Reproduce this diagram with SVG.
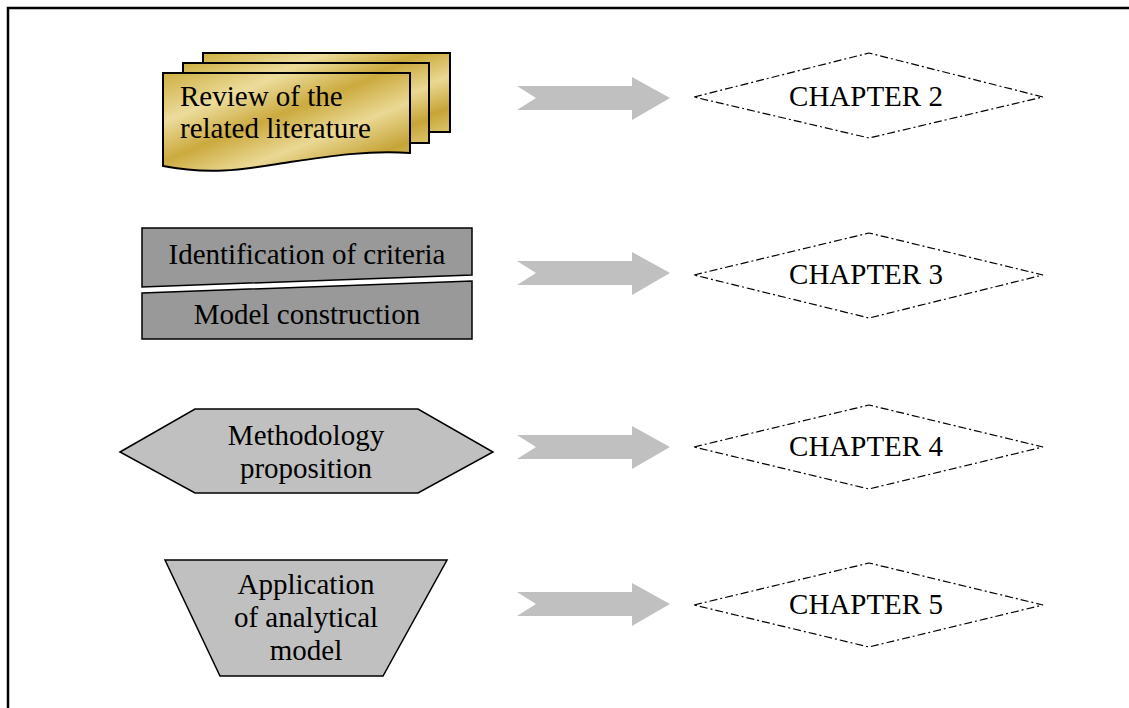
<svg xmlns="http://www.w3.org/2000/svg" width="1129" height="708" viewBox="0 0 1129 708">
<defs>
<linearGradient id="gold" x1="0" y1="0" x2="1" y2="1">
<stop offset="0" stop-color="#cdae40"/>
<stop offset="0.25" stop-color="#ecdc9c"/>
<stop offset="0.45" stop-color="#cbaa3e"/>
<stop offset="0.65" stop-color="#ead894"/>
<stop offset="0.85" stop-color="#c6a438"/>
<stop offset="1" stop-color="#dcc46c"/>
</linearGradient>
<style>
.t{font-family:"Liberation Serif","Times New Roman",serif;font-size:29px;fill:#000;text-anchor:middle}
.tl{font-family:"Liberation Serif","Times New Roman",serif;font-size:29px;fill:#000}
.doc{fill:url(#gold);stroke:#000;stroke-width:2}
.dark{fill:#999999;stroke:#000;stroke-width:1.5}
.light{fill:#c0c0c0;stroke:#000;stroke-width:1.5}
.arr{fill:#c0c0c0;stroke:none}
.dia{fill:none;stroke:#000;stroke-width:1.2;stroke-dasharray:8 3 2 3}
</style>
</defs>
<rect width="1129" height="708" fill="#fff"/>
<path d="M8,708 V8 H1129" fill="none" stroke="#000" stroke-width="2.5"/>

<g id="review">
<path class="doc" d="M203,53 H450 V132 H203 Z"/>
<path class="doc" d="M183,63 H429 V143 H183 Z"/>
<path class="doc" d="M163,73 H410 V153 C370,150 330,156 290,162 C250,168 215,176 163,166 Z"/>
<text class="tl" x="180" y="106">Review of the</text>
<text class="tl" x="180" y="138">related literature</text>
</g>

<g id="identification">
<path class="dark" d="M142,228 H472 V275 L142,287 Z"/>
<text class="t" x="307" y="264">Identification of criteria</text>
</g>
<g id="model">
<path class="dark" d="M142,293 L472,281 V339 H142 Z"/>
<text class="t" x="307" y="324">Model construction</text>
</g>

<g id="methodology">
<path class="light" d="M120,452 L195,409 H418 L493,452 L418,493 H195 Z"/>
<text class="t" x="306" y="445">Methodology</text>
<text class="t" x="306" y="478">proposition</text>
</g>

<g id="application">
<path class="light" d="M165,560 H447 L383,676 H220 Z"/>
<text class="t" x="306" y="594">Application</text>
<text class="t" x="306" y="627">of analytical</text>
<text class="t" x="306" y="660">model</text>
</g>

<g id="chapter2">
<path class="dia" d="M694,97 L869,53 L1043,97 L869,138 Z"/>
<text class="t" x="866" y="106">CHAPTER 2</text>
</g>
<g id="chapter3">
<path class="dia" d="M694,275 L869,233 L1043,275 L869,318 Z"/>
<text class="t" x="866" y="284">CHAPTER 3</text>
</g>
<g id="chapter4">
<path class="dia" d="M694,447 L869,405 L1043,447 L869,489 Z"/>
<text class="t" x="866" y="456">CHAPTER 4</text>
</g>
<g id="chapter5">
<path class="dia" d="M694,605 L869,563 L1043,605 L869,647 Z"/>
<text class="t" x="866" y="614">CHAPTER 5</text>
</g>

<g id="connectors">
<path class="arr" d="M517,86 H632 V77 L670,98 L632,120 V110 H517 L536,98 Z"/>
<path class="arr" d="M517,261 H632 V252 L670,273 L632,295 V285 H517 L536,273 Z"/>
<path class="arr" d="M517,435 H632 V426 L670,447 L632,469 V459 H517 L536,447 Z"/>
<path class="arr" d="M517,592 H632 V583 L670,604 L632,626 V616 H517 L536,604 Z"/>
</g>
</svg>
